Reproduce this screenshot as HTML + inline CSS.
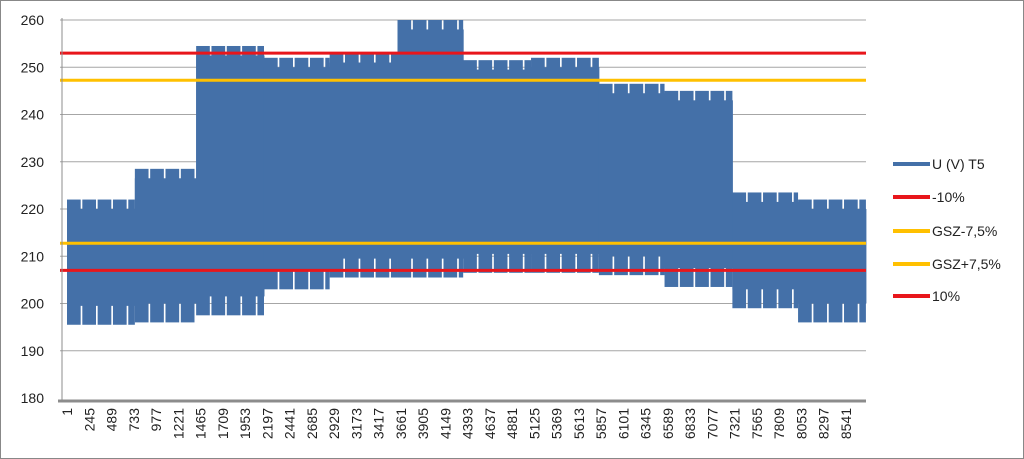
<!DOCTYPE html>
<html><head><meta charset="utf-8"><style>
html,body{margin:0;padding:0;background:#fff}
svg{display:block;font-family:"Liberation Sans",Calibri,sans-serif}
</style></head><body>
<svg id="chart" width="1024" height="459" viewBox="0 0 1024 459" xmlns="http://www.w3.org/2000/svg">
<rect x="0.5" y="0.5" width="1023" height="458" fill="#fff" stroke="#888"/>
<g id="grid"></g>
<g id="series"></g>
<g id="refs"></g>
<g id="axes"></g>
<g id="legend"></g>
</svg>
<script>
// data
const monthHours = [744,672,744,720,744,720,744,744,720,744,720,744];
const monthHigh = [222,228.5,254.5,252,253,260,251.5,252,246.5,245,223.5,222];
const monthLow  = [195.5,196,197.5,203,205.5,205.5,206.5,206.5,206,203.5,199,196];
const refNames  = ["-10%","GSZ-7,5%","GSZ+7,5%","10%"];
const refValues = [207,212.75,247.25,253];
const refColors = ["#e8161b","#ffc000","#ffc000","#e8161b"];
const yTicks = [180,190,200,210,220,230,240,250,260];
const xTickStart = 1, xTickStep = 244, xTickCount = 36;

const NS="http://www.w3.org/2000/svg";
const X0=67, PX_PER_H=0.0912, Y180=398, PX_PER_V=4.725;
const xs = h => X0 + (h-1)*PX_PER_H;
const ys = v => Y180 - (v-180)*PX_PER_V;
function mk(tag, attrs, parent){const e=document.createElementNS(NS,tag);for(const k in attrs)e.setAttribute(k,attrs[k]);parent.appendChild(e);return e;}
const grid=document.getElementById('grid'), series=document.getElementById('series'), refs=document.getElementById('refs'), axes=document.getElementById('axes'), legend=document.getElementById('legend');
const BLUE="#4470a8";

yTicks.forEach(v=>{
  if(v!==180){const l=mk('line',{x1:60,x2:866,y1:ys(v),y2:ys(v),stroke:'#a6a6a6','stroke-width':1},grid);
  
  }
  const t=mk('text',{x:44,y:ys(v)+5,'text-anchor':'end','font-size':14,fill:'#222'},axes);
  t.textContent=v;
  
  
});

// series
let h=1;
monthHours.forEach((n,i)=>{
  const hi=monthHigh[i], lo=monthLow[i];
  const band=mk('rect',{x:xs(h),y:ys(hi-2),width:n*PX_PER_H+0.5,height:ys(lo+4)-ys(hi-2),fill:BLUE},series);
  
  
  for(let w=0; w<n; w+=168){
    const len=Math.min(150,n-w);
    const r=mk('rect',{x:xs(h+w),y:ys(hi),width:len*PX_PER_H,height:ys(lo)-ys(hi),fill:BLUE},series);
    
    
  }
  h+=n;
});

refValues.forEach((v,i)=>{
  const l=mk('line',{x1:60,x2:866,y1:ys(v),y2:ys(v),stroke:refColors[i],'stroke-width':3},refs);
  
  
});

// axes
const ya=mk('line',{x1:62,x2:62,y1:18,y2:400,stroke:'#8c8c8c','stroke-width':1},axes);


const xa=mk('line',{x1:58,x2:866,y1:401,y2:401,stroke:'#8c8c8c','stroke-width':3},axes);


for(let k=0;k<xTickCount;k++){
  const v=xTickStart+k*xTickStep, x=xs(v)+5;
  const t=mk('text',{x:0,y:0,'text-anchor':'end','font-size':14,fill:'#222',transform:`translate(${x},408) rotate(-90)`},axes);
  t.textContent=v;
  
  
}

// legend
const legNames=["U (V) T5"].concat(refNames), legColors=[BLUE].concat(refColors), legY=[164,197,231,264,296];
legNames.forEach((nm,i)=>{
  const g=mk('g',{},legend);
  
  
  mk('line',{x1:893,x2:930,y1:legY[i],y2:legY[i],stroke:legColors[i],'stroke-width':4},g);
  const t=mk('text',{x:932,y:legY[i]+5,'font-size':14,fill:'#222'},g);
  t.textContent=nm;
});
</script>
</body></html>
